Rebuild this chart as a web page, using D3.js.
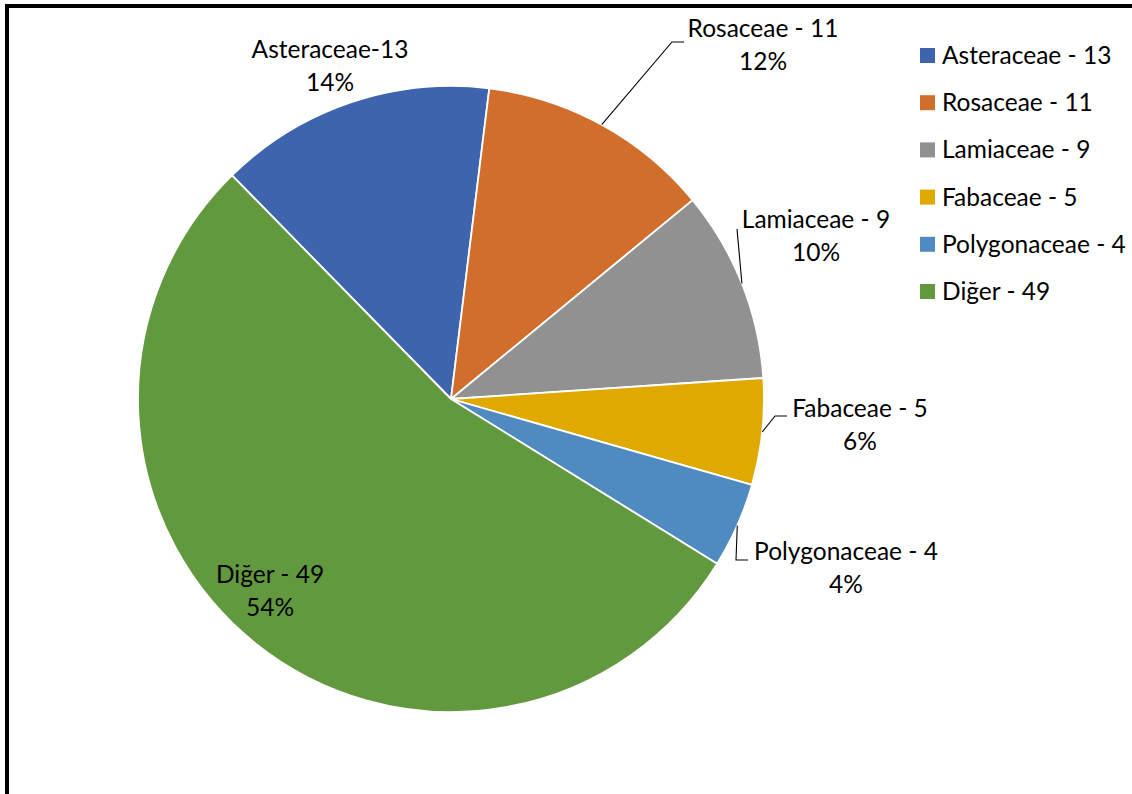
<!DOCTYPE html>
<html>
<head>
<meta charset="utf-8">
<script src="https://cdn.jsdelivr.net/npm/d3@7"></script>
<style>
  html, body { margin: 0; padding: 0; background: #fff; }
  svg { display: block; }
  text { font-family: Lato, "Open Sans", sans-serif; fill: #000; }
</style>
</head>
<body>
<svg id="chart" width="1132" height="794"></svg>
<script>
// Plant families and species counts
const categories = ["Asteraceae - 13", "Rosaceae - 11", "Lamiaceae - 9", "Fabaceae - 5", "Polygonaceae - 4", "Diğer - 49"];
const sliceNames = ["Asteraceae-13", "Rosaceae - 11", "Lamiaceae - 9", "Fabaceae - 5", "Polygonaceae - 4", "Diğer - 49"];
const values = [13, 11, 9, 5, 4, 49];
const percentLabels = ["14%", "12%", "10%", "6%", "4%", "54%"];
const colors = ["#3d64ad", "#d26e2b", "#919191", "#e0a900", "#4f8bc0", "#62993e"];

const W = 1132, H = 794;
const cx = 451, cy = 399, R = 313;
const fontSize = 24.5;
const lineGap = 32.5;

// Data label placement (first-line baseline and leader elbow, relative to chart)
const labelLayout = [
  { x: 330, y: 58, leader: null },
  { x: 763, y: 37, leader: [[672, 42], [684, 42]] },
  { x: 816, y: 228, leader: [[737, 229]] },
  { x: 860, y: 417, leader: [[775, 416], [787, 416]] },
  { x: 846, y: 560, leader: [[736, 560], [748, 560]] },
  { x: 270, y: 583, leader: null }
];

const svg = d3.select("#chart");

// Outer frame (top and left edges)
svg.append("rect").attr("x", 5).attr("y", 4).attr("width", W - 5).attr("height", 4).attr("fill", "#000");
svg.append("rect").attr("x", 5).attr("y", 4).attr("width", 4).attr("height", H - 4).attr("fill", "#000");

// Pie starts at the first slice's rotation so slices run clockwise
const startDeg = -44.4;
const start = startDeg * Math.PI / 180;
const pie = d3.pie().value(d => d).sort(null)
  .startAngle(start).endAngle(start + 2 * Math.PI);
const arcs = pie(values);
const arc = d3.arc().innerRadius(0).outerRadius(R);

const g = svg.append("g").attr("transform", `translate(${cx},${cy})`);
g.selectAll("path.slice")
  .data(arcs)
  .join("path")
  .attr("class", "slice")
  .attr("d", arc)
  .attr("fill", (d, i) => colors[i])
  .attr("stroke", "#fff")
  .attr("stroke-width", 1.8)
  .attr("stroke-linejoin", "round");

// Leader lines from slice mid-angle on the rim to the label
arcs.forEach((a, i) => {
  const lay = labelLayout[i];
  if (!lay.leader) return;
  const mid = (a.startAngle + a.endAngle) / 2;
  const p0 = [cx + R * Math.sin(mid), cy - R * Math.cos(mid)];
  const pts = [p0, ...lay.leader];
  svg.append("path")
    .attr("d", d3.line()(pts))
    .attr("fill", "none")
    .attr("stroke", "#000")
    .attr("stroke-width", 1.1);
});

// Data labels: name and share
labelLayout.forEach((lay, i) => {
  const t = svg.append("text")
    .attr("text-anchor", "middle")
    .attr("font-size", fontSize);
  t.append("tspan").attr("x", lay.x).attr("y", lay.y).text(sliceNames[i]);
  t.append("tspan").attr("x", lay.x).attr("y", lay.y + lineGap).text(percentLabels[i]);
});

// Legend
const legend = svg.append("g").attr("transform", "translate(920,48)");
const rowH = 47.2;
const item = legend.selectAll("g.item")
  .data(categories)
  .join("g")
  .attr("class", "item")
  .attr("transform", (d, i) => `translate(0,${i * rowH})`);
item.append("rect")
  .attr("width", 15).attr("height", 15)
  .attr("fill", (d, i) => colors[i]);
item.append("text")
  .attr("x", 22).attr("y", 16)
  .attr("font-size", fontSize)
  .text(d => d);
</script>
</body>
</html>
